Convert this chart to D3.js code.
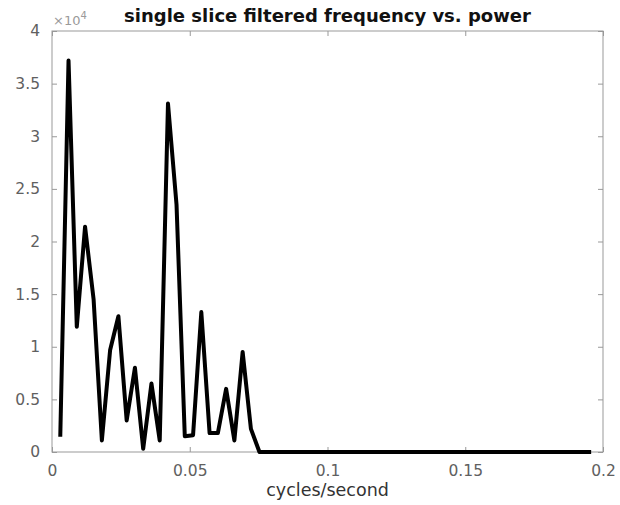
<!DOCTYPE html>
<html>
<head>
<meta charset="utf-8">
<script src="https://cdn.jsdelivr.net/npm/d3@7"></script>
<style>
  html, body { margin: 0; padding: 0; background: #fff; }
  svg { display: block; }
  text { font-family: "DejaVu Sans", sans-serif; }
</style>
</head>
<body>
<div id="chart"></div>
<script>
// ---- data ----
const titleText = "single slice filtered frequency vs. power";
const xLabelText = "cycles/second";
const frequency = [
  0.0030, 0.0060, 0.0090, 0.0120, 0.0151, 0.0181, 0.0211, 0.0241, 0.0271, 0.0301,
  0.0331, 0.0361, 0.0391, 0.0421, 0.0452, 0.0482, 0.0512, 0.0542, 0.0572, 0.0602,
  0.0632, 0.0662, 0.0692, 0.0722, 0.0753, 0.0783, 0.0813, 0.0843, 0.0873, 0.0903,
  0.0933, 0.0963, 0.0993, 0.1023, 0.1054, 0.1084, 0.1114, 0.1144, 0.1174, 0.1204,
  0.1234, 0.1264, 0.1294, 0.1324, 0.1355, 0.1385, 0.1415, 0.1445, 0.1475, 0.1505,
  0.1535, 0.1565, 0.1595, 0.1625, 0.1656, 0.1686, 0.1716, 0.1746, 0.1776, 0.1806,
  0.1836, 0.1866, 0.1896, 0.1926, 0.1957
];
const power = [
  1450, 37200, 11900, 21400, 14500, 1100, 9700, 12900, 3000, 8000,
  300, 6500, 1100, 33100, 23500, 1500, 1600, 13300, 1800, 1800,
  6000, 1100, 9500, 2200, 0, 0, 0, 0, 0, 0,
  0, 0, 0, 0, 0, 0, 0, 0, 0, 0,
  0, 0, 0, 0, 0, 0, 0, 0, 0, 0,
  0, 0, 0, 0, 0, 0, 0, 0, 0, 0,
  0, 0, 0, 0, 0
];
const xTicks = [0, 0.05, 0.1, 0.15, 0.2];
const xTickLabels = ["0", "0.05", "0.1", "0.15", "0.2"];
const yTicks = [0, 5000, 10000, 15000, 20000, 25000, 30000, 35000, 40000];
const yTickLabels = ["0", "0.5", "1", "1.5", "2", "2.5", "3", "3.5", "4"];
const yExponent = "4";

// ---- layout ----
const W = 620, H = 505;
const m = { left: 52, top: 31, right: 17, bottom: 53 };
const pw = W - m.left - m.right, ph = H - m.top - m.bottom;
const axisColor = "#999999";
const labelColor = "#606060";

const svg = d3.select("#chart").append("svg").attr("width", W).attr("height", H);

const x = d3.scaleLinear().domain([0, 0.2]).range([m.left, m.left + pw]);
const y = d3.scaleLinear().domain([0, 40000]).range([m.top + ph, m.top]);

// box
svg.append("rect")
  .attr("x", m.left).attr("y", m.top).attr("width", pw).attr("height", ph)
  .attr("fill", "none").attr("stroke", axisColor).attr("stroke-width", 1);

// axes with inward ticks
const xAxis = d3.axisBottom(x).tickValues(xTicks)
  .tickFormat((d, i) => xTickLabels[i]).tickSizeInner(-5).tickSizeOuter(0).tickPadding(13);
const gx = svg.append("g").attr("transform", `translate(0,${m.top + ph})`).call(xAxis);
const xTop = d3.axisTop(x).tickValues(xTicks).tickFormat("").tickSizeInner(-5).tickSizeOuter(0);
const gxt = svg.append("g").attr("transform", `translate(0,${m.top})`).call(xTop);

const yAxis = d3.axisLeft(y).tickValues(yTicks)
  .tickFormat((d, i) => yTickLabels[i]).tickSizeInner(-5).tickSizeOuter(0).tickPadding(12);
const gy = svg.append("g").attr("transform", `translate(${m.left},0)`).call(yAxis);
const yRight = d3.axisRight(y).tickValues(yTicks).tickFormat("").tickSizeInner(-5).tickSizeOuter(0);
const gyr = svg.append("g").attr("transform", `translate(${m.left + pw},0)`).call(yRight);

[gx, gxt, gy, gyr].forEach(g => {
  g.select(".domain").remove();
  g.selectAll(".tick line").attr("stroke", axisColor);
  g.selectAll(".tick text").attr("fill", labelColor).style("font-size", "15.5px")
    .style("font-family", "'DejaVu Sans', sans-serif");
});

// exponent label
const ex = svg.append("text").attr("x", m.left + 1).attr("y", m.top - 6)
  .attr("fill", "#9a9a9a").style("font-size", "13px");
ex.append("tspan").text("\u00d710");
ex.append("tspan").attr("dy", -6).style("font-size", "10px").text(yExponent);

// line
const data = frequency.map((f, i) => ({ f, p: power[i] }));
const line = d3.line().x(d => x(d.f)).y(d => y(d.p));
svg.append("path").datum(data).attr("d", line)
  .attr("fill", "none").attr("stroke", "#000").attr("stroke-width", 4)
  .attr("stroke-linejoin", "round").attr("stroke-linecap", "butt");

// title
svg.append("text").attr("x", m.left + pw / 2).attr("y", 22)
  .attr("text-anchor", "middle").attr("fill", "#111")
  .style("font-size", "18px").style("font-weight", "bold").text(titleText);

// x label
svg.append("text").attr("x", m.left + pw / 2).attr("y", 496)
  .attr("text-anchor", "middle").attr("fill", "#333")
  .style("font-size", "17.5px").text(xLabelText);
</script>
</body>
</html>
